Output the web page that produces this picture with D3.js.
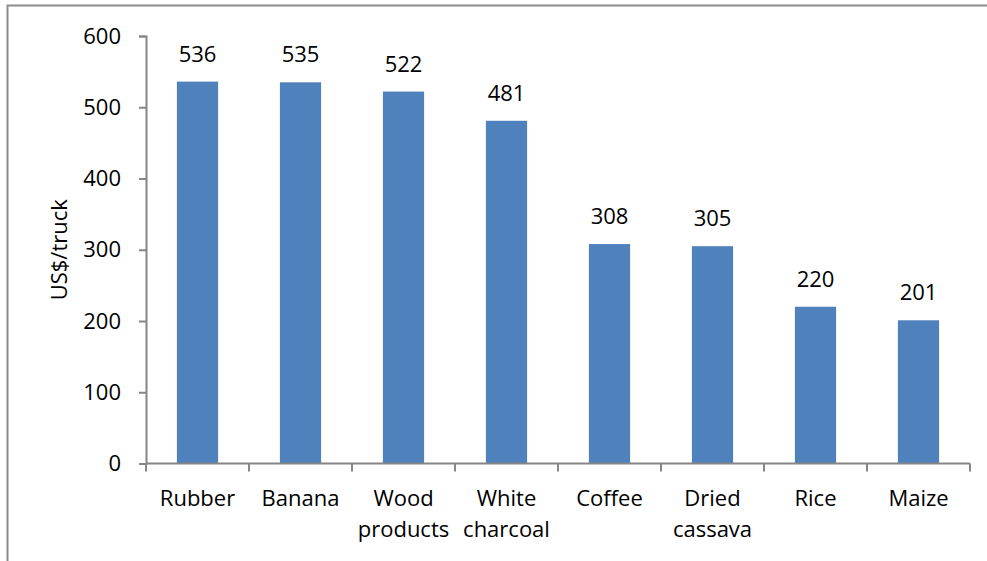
<!DOCTYPE html>
<html>
<head>
<meta charset="utf-8">
<script src="https://cdn.jsdelivr.net/npm/d3@7"></script>
<style>
  body { margin: 0; background: #fff; }
  text { font-family: "Open Sans", sans-serif; fill: #000; }
</style>
</head>
<body>
<script>
var categories = [["Rubber"], ["Banana"], ["Wood", "products"], ["White", "charcoal"],
                  ["Coffee"], ["Dried", "cassava"], ["Rice"], ["Maize"]];
var values = [536, 535, 522, 481, 308, 305, 220, 201];
var y_ticks = [0, 100, 200, 300, 400, 500, 600];

var width = 987, height = 561;
var svg = d3.select("body").append("svg")
    .attr("width", width)
    .attr("height", height);

// outer frame
svg.append("rect")
    .attr("x", 7.5).attr("y", 5.5)
    .attr("width", 985).attr("height", 570)
    .attr("fill", "none")
    .attr("stroke", "#8c8c8c")
    .attr("stroke-width", 2);

var plot_left = 146, plot_right = 970, plot_top = 36, plot_bottom = 463.5;
var fs = "22px";

var x = d3.scaleBand()
    .domain(d3.range(categories.length))
    .range([plot_left, plot_right])
    .paddingInner(0)
    .paddingOuter(0);

var y = d3.scaleLinear().domain([0, 600]).range([plot_bottom, plot_top]);

var bar_w = x.bandwidth() * 0.4;

svg.selectAll(".bar")
    .data(values).enter().append("rect")
    .attr("class", "bar")
    .attr("x", function(d, i){ return x(i) + (x.bandwidth() - bar_w)/2; })
    .attr("y", function(d){ return y(d); })
    .attr("width", bar_w)
    .attr("height", function(d){ return y(0) - y(d); })
    .attr("fill", "#4f81bd");

// y axis
var yAxis = svg.append("g")
    .attr("transform", "translate(" + plot_left + ",0)")
    .call(d3.axisLeft(y).tickValues(y_ticks).tickSize(7).tickPadding(18));
yAxis.selectAll("text").style("font-size", fs).attr("fill", "#000")
    .style("font-family", "'Open Sans', sans-serif");

// x axis with ticks at band boundaries
var xAxis = svg.append("g").attr("transform", "translate(0," + plot_bottom + ")");
xAxis.append("line")
    .attr("x1", plot_left).attr("x2", plot_right)
    .attr("y1", 0).attr("y2", 0);
xAxis.selectAll(".xt")
    .data(d3.range(categories.length + 1)).enter().append("line")
    .attr("class", "xt")
    .attr("x1", function(i){ return plot_left + i * x.step(); })
    .attr("x2", function(i){ return plot_left + i * x.step(); })
    .attr("y1", 0).attr("y2", 8);

svg.selectAll(".domain, .tick line, g line")
    .attr("stroke", "#868686")
    .attr("stroke-width", 2);

// category labels
var cat = svg.selectAll(".cat")
    .data(categories).enter().append("text")
    .attr("class", "cat")
    .attr("text-anchor", "middle")
    .style("font-size", fs);
cat.selectAll("tspan")
    .data(function(d, i){ return d.map(function(s){ return {s: s, i: i}; }); })
    .enter().append("tspan")
    .attr("x", function(d){ return x(d.i) + x.bandwidth()/2; })
    .attr("y", function(d, j){ return 506 + j * 31; })
    .text(function(d){ return d.s; });

// value labels
svg.selectAll(".val")
    .data(values).enter().append("text")
    .attr("class", "val")
    .attr("text-anchor", "middle")
    .attr("x", function(d, i){ return x(i) + x.bandwidth()/2; })
    .attr("y", function(d){ return y(d) - 20; })
    .style("font-size", fs)
    .text(function(d){ return d; });

// y title
svg.append("text")
    .attr("transform", "translate(67," + ((plot_top + plot_bottom)/2) + ") rotate(-90)")
    .attr("text-anchor", "middle")
    .style("font-size", fs)
    .text("US$/truck");
</script>
</body>
</html>
